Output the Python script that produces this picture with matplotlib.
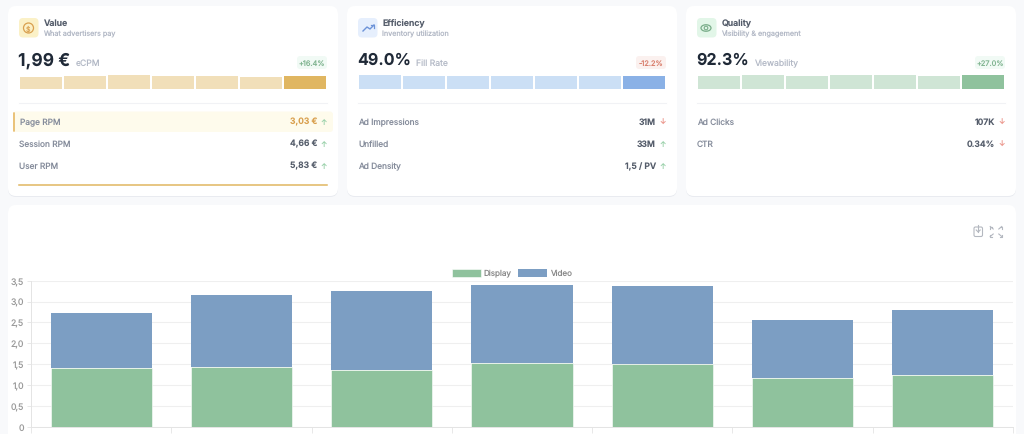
import matplotlib
matplotlib.use('Agg')
import matplotlib.pyplot as plt
from matplotlib.patches import FancyBboxPatch, Circle, Ellipse
import numpy as np

plt.rcParams['font.family'] = ['Inter', 'DejaVu Sans']
plt.rcParams['text.hinting'] = 'no_hinting'
plt.rcParams['text.hinting_factor'] = 1

# stacked chart values
display_vals = [1.41, 1.43, 1.37, 1.53, 1.50, 1.17, 1.24]
video_vals = [1.32, 1.73, 1.89, 1.87, 1.88, 1.39, 1.56]
y_ticks = [0, 0.5, 1.0, 1.5, 2.0, 2.5, 3.0, 3.5]
y_labels = ['0', '0,5', '1,0', '1,5', '2,0', '2,5', '3,0', '3,5']

# mini bars in the cards
value_bars = [12.3, 13.0, 13.8, 12.5, 12.5, 11.5, 12.5]
efficiency_bars = [13.8, 13.3, 12.6, 12.6, 12.9, 12.6, 12.9]
quality_bars = [12.5, 13.6, 13.0, 13.6, 13.8, 12.8, 13.4]

# card texts
titles = ['Value', 'Efficiency', 'Quality']
subtitles = ['What advertisers pay', 'Inventory utilization', 'Visibility & engagement']
big_values = ['1,99 €', '49.0%', '92.3%']
big_labels = ['eCPM', 'Fill Rate', 'Viewability']
badges = ['+16.4%', '-12.2%', '+27.0%']
value_rows = [('Page RPM', '3,03 €', 'up'), ('Session RPM', '4,66 €', 'up'), ('User RPM', '5,83 €', 'up')]
efficiency_rows = [('Ad Impressions', '31M', 'down'), ('Unfilled', '33M', 'up'), ('Ad Density', '1,5 / PV', 'up')]
quality_rows = [('Ad Clicks', '107K', 'down'), ('CTR', '0.34%', 'down')]

W, H = 1024, 435
GREEN = '#8fc29d'
BLUE = '#7c9ec3'
AMBER = '#d9a04f'
DARK = '#1f2937'
MID = '#555d6b'
SOFT = '#858c9b'
PALE = '#b3b9c6'


def rounded(ax, x, y, w, h, r, **kw):
    box = FancyBboxPatch((x + r, y + r), w - 2 * r, h - 2 * r,
                         boxstyle=f'round,pad={r},rounding_size={r}', **kw)
    ax.add_patch(box)
    return box


fig = plt.figure(figsize=(W / 100, H / 100), dpi=100, facecolor='#f8f9fb')
bg = fig.add_axes([0, 0, 1, 1])
bg.set_xlim(0, W)
bg.set_ylim(H, 0)
bg.axis('off')


def card(x, y, w, h):
    rounded(bg, x, y + 1, w, h, 8, fc='#e9ebf0', ec='none')
    rounded(bg, x, y, w, h, 8, fc='white', ec='none')


def mini_bars(x0, vals, light, dark):
    ax = fig.add_axes([x0 / W, 1 - 89.8 / H, 308 / W, 14.5 / H])
    colors = [light] * (len(vals) - 1) + [dark]
    ax.bar(range(len(vals)), vals, width=0.966, color=colors)
    ax.set_xlim(-0.5, 6.5)
    ax.set_ylim(0, 14.5)
    ax.axis('off')


def draw_card(i, rows, bars, light, dark, icon_bg, badge_bg, badge_fg, label_x, big_size):
    x0 = 8 + 339 * i
    left = x0 + 11
    right = x0 + 319
    card(x0, 7, 330, 190)
    rounded(bg, left, 19, 19.5, 19.5, 4, fc=icon_bg, ec='none')
    bg.text(left + 24.5, 23.5, titles[i], fontsize=6.3, fontweight='semibold', color=MID, va='center')
    bg.text(left + 24.5, 34.5, subtitles[i], fontsize=5.2, color=PALE, va='center')
    bg.text(left - 0.8, 60.5, big_values[i], fontsize=big_size, fontweight='bold', color=DARK, va='center')
    bg.text(label_x, 63.5, big_labels[i], fontsize=6.2, color=PALE, va='center')
    rounded(bg, right - 30, 57, 30, 13, 3, fc=badge_bg, ec='none')
    bg.text(right - 15, 63.7, badges[i], fontsize=5.3, color=badge_fg, ha='center', va='center')
    mini_bars(left, bars, light, dark)
    bg.plot([left, right], [103.5, 103.5], color='#f1f2f5', lw=0.8)
    if i == 0:
        # highlighted first row with its amber edge
        rounded(bg, 13, 112.5, 320, 20.5, 3, fc='#fefbec', ec='none')
        bg.plot([13.5, 13.5], [114, 132], color='#e8bd6f', lw=1.3, solid_capstyle='round')
    for j, (name, val, arrow) in enumerate(rows):
        y = 122.5 + 22 * j
        highlight = i == 0 and j == 0
        bg.text(left + (1 if highlight else 0), y, name, fontsize=6.0, color=SOFT, va='center')
        bg.text(right - 10, y, val, fontsize=6.2, fontweight='semibold',
                color=AMBER if highlight else MID, ha='right', va='center')
        sign = '↑' if arrow == 'up' else '↓'
        col = '#9fd3ae' if arrow == 'up' else '#ec9a90'
        bg.text(right - 3, y, sign, fontsize=5.5, color=col, ha='center', va='center')


card(8, 206, 1008, 240)
draw_card(0, value_rows, value_bars, '#f1dfb9', '#e0b661', '#fbf1c7', '#f1faf5', '#82b592', 76, 12.6)
draw_card(1, efficiency_rows, efficiency_bars, '#cbdff5', '#8ab1e6', '#e6effd', '#fbf1ef', '#d9806f', 416, 11.6)
draw_card(2, quality_rows, quality_bars, '#cfe5d5', GREEN, '#e2f6e8', '#f1faf5', '#82b592', 755, 11.6)
bg.plot([19, 327], [186, 186], color='#e0b661', lw=1.1)

# card icons
bg.add_patch(Circle((28.5, 29), 5, fc='none', ec=AMBER, lw=0.9))
bg.text(28.5, 29, '$', fontsize=5, color=AMBER, ha='center', va='center')
bg.plot([363, 367, 370, 374], [32, 28, 30, 26], color='#6d93d8', lw=1)
bg.plot([371, 374, 374], [26, 26, 29], color='#6d93d8', lw=0.9)
bg.add_patch(Ellipse((706, 29), 10, 6.5, fc='none', ec='#79ad89', lw=0.9))
bg.add_patch(Circle((706, 29), 1.8, fc='none', ec='#79ad89', lw=0.8))

# toolbar icons in the chart card
ic = '#b4b8c0'
rounded(bg, 974, 228, 8.5, 9.5, 1.5, fc='none', ec=ic, lw=0.8)
bg.plot([978.2, 978.2], [226, 233], color=ic, lw=0.8)
bg.plot([976.2, 978.2, 980.2], [231, 233, 231], color=ic, lw=0.8)
for sx, cx in ((-1, 993.2), (1, 998.8)):
    for sy, cy in ((-1, 230), (1, 235)):
        tx, ty = cx + sx * 3, cy + sy * 2.5
        bg.plot([cx, tx], [cy, ty], color=ic, lw=0.8)
        bg.plot([tx - sx * 2, tx, tx], [ty, ty, ty - sy * 2], color=ic, lw=0.8)

# stacked bar chart, the axes bottom and top are pinned to the reference pixels
ax = fig.add_axes([31 / W, 1 - 427.7 / H, 982 / W, 146 / H])
ax.patch.set_alpha(0)
x = np.arange(len(display_vals))
ax.bar(x, display_vals, width=0.72, color=GREEN, edgecolor='white', linewidth=0.4, label='Display', zorder=3)
ax.bar(x, video_vals, width=0.72, bottom=display_vals, color=BLUE, linewidth=0, label='Video', zorder=3)
ax.set_xlim(-0.5, 6.5)
ax.set_ylim(0, 3.5)
ax.set_yticks(y_ticks)
ax.set_yticklabels(y_labels, fontsize=6.3, color='#9a9a9a')
ax.set_xticks(np.arange(-0.5, 7))
ax.set_xticklabels([])
ax.tick_params(axis='x', length=4, width=0.7, color='#e8e8e8')
ax.tick_params(axis='y', length=3.2, width=0.7, color='#e8e8e8', pad=1.9)
ax.grid(axis='y', color='#efefef', lw=0.8, zorder=0)
for side in ('top', 'right'):
    ax.spines[side].set_visible(False)
for side in ('left', 'bottom'):
    ax.spines[side].set_color('#e4e4e4')
    ax.spines[side].set_linewidth(0.7)
ax.legend(loc='lower center', bbox_to_anchor=(0.4895, 1.025), ncol=2, frameon=False, fontsize=5.8,
          labelcolor='#8a8a8a', handlelength=3.6, handleheight=1.2, columnspacing=0.7,
          handletextpad=0.4, borderpad=0, borderaxespad=0)

fig.savefig('out.png', dpi=100, facecolor=fig.get_facecolor())
